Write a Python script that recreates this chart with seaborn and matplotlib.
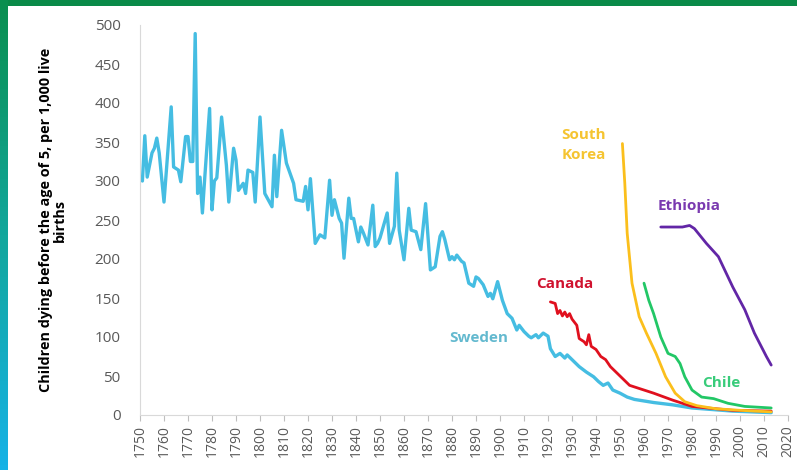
import matplotlib
matplotlib.use("Agg")
import matplotlib.pyplot as plt
from matplotlib.colors import LinearSegmentedColormap
import seaborn as sns
import numpy as np
import pandas as pd

# under-5 mortality, deaths per 1,000 live births
sweden_years = [1751, 1752, 1753, 1755, 1756, 1757, 1758, 1760, 1763, 1764, 1766, 1767, 1769, 1770,
                1771, 1772, 1773, 1774, 1775, 1776, 1777, 1779, 1780, 1781, 1782, 1784, 1786, 1787,
                1789, 1790, 1791, 1793, 1794, 1795, 1797, 1798, 1800, 1802, 1805, 1806, 1807, 1809,
                1811, 1814, 1815, 1818, 1819, 1820, 1821, 1823, 1825, 1827, 1829, 1830, 1831, 1833,
                1834, 1835, 1837, 1838, 1839, 1841, 1842, 1843, 1845, 1847, 1848, 1849, 1850, 1853,
                1854, 1856, 1857, 1858, 1860, 1862, 1863, 1865, 1867, 1869, 1871, 1873, 1875, 1876,
                1877, 1879, 1880, 1881, 1882, 1884, 1885, 1887, 1889, 1890, 1891, 1893, 1895, 1896,
                1897, 1899, 1901, 1903, 1905, 1907, 1908, 1910, 1912, 1913, 1915, 1916, 1918, 1920,
                1921, 1923, 1925, 1927, 1928, 1930, 1933, 1936, 1939, 1941, 1943, 1945, 1947, 1950,
                1953, 1956, 1964, 1972, 1980, 1997, 2013]
sweden_rate = [300, 358, 305, 336, 342, 355, 336, 273, 395, 318, 314, 299, 357, 357,
               325, 325, 489, 284, 305, 259, 305, 393, 263, 300, 304, 382, 320, 273,
               342, 327, 288, 297, 284, 314, 311, 273, 382, 284, 267, 333, 280, 365,
               323, 297, 276, 274, 293, 263, 303, 220, 231, 227, 301, 256, 276, 252,
               246, 201, 278, 252, 252, 222, 241, 234, 218, 269, 216, 220, 227, 259,
               220, 242, 310, 237, 199, 265, 237, 235, 212, 271, 186, 190, 229, 235,
               225, 199, 203, 199, 205, 197, 195, 169, 165, 177, 175, 167, 152, 156,
               149, 171, 147, 130, 124, 109, 115, 107, 101, 99, 103, 99, 105, 101,
               85, 75, 79, 73, 77, 71, 62, 55, 49, 43, 38, 41, 32, 28,
               23, 20, 16, 13, 9, 5, 3]

canada_years = [1921, 1923, 1924, 1925, 1926, 1927, 1928, 1929, 1930, 1932, 1933, 1935, 1936, 1937,
                1938, 1940, 1942, 1944, 1946, 1948, 1951, 1954, 1964, 1972, 1980, 1990, 1997, 2013]
canada_rate = [145, 143, 130, 134, 127, 132, 126, 130, 123, 115, 98, 94, 90, 103,
               88, 84, 75, 71, 62, 56, 47, 38, 28, 19, 11, 8, 6, 5]

korea_years = [1951, 1952, 1953, 1955, 1958, 1961, 1965, 1969, 1973, 1977, 1982, 1990, 2000, 2013]
korea_rate = [348, 297, 233, 169, 126, 105, 79, 49, 28, 17, 12, 8, 6, 4]

chile_years = [1960, 1962, 1964, 1967, 1970, 1973, 1975, 1977, 1980, 1984, 1989, 1995, 2002, 2013]
chile_rate = [169, 147, 130, 100, 79, 75, 66, 49, 32, 23, 21, 15, 11, 9]

ethiopia_years = [1967, 1976, 1979, 1981, 1986, 1991, 1997, 2002, 2006, 2011, 2013]
ethiopia_rate = [241, 241, 243, 239, 220, 203, 164, 135, 105, 75, 64]

sns.set_style("white")
plt.rcParams['font.family'] = ['Open Sans', 'DejaVu Sans']

fig = plt.figure(figsize=(7.97, 4.70), dpi=100)
ax = fig.add_axes([140 / 797, 1 - 415 / 470, 648 / 797, 390 / 470])

sweden = pd.DataFrame({"year": sweden_years, "rate": sweden_rate})
canada = pd.DataFrame({"year": canada_years, "rate": canada_rate})
korea = pd.DataFrame({"year": korea_years, "rate": korea_rate})
chile = pd.DataFrame({"year": chile_years, "rate": chile_rate})
ethiopia = pd.DataFrame({"year": ethiopia_years, "rate": ethiopia_rate})

sns.lineplot(data=sweden, x="year", y="rate", color="#45bde2", lw=2.4, ax=ax)
sns.lineplot(data=canada, x="year", y="rate", color="#e0101e", lw=2, ax=ax)
sns.lineplot(data=korea, x="year", y="rate", color="#fbbf1c", lw=2, ax=ax)
sns.lineplot(data=chile, x="year", y="rate", color="#22c766", lw=2, ax=ax)
sns.lineplot(data=ethiopia, x="year", y="rate", color="#6226a6", lw=2, ax=ax)

# series labels
lab = dict(fontsize=11, fontweight='bold', ha='center', va='center')
ax.text(1891, 99, 'Sweden', color='#63b9cf', **lab)
ax.text(1927, 168, 'Canada', color='#d0122e', **lab)
ax.text(1935, 346, 'South\nKorea', color='#f5c431', linespacing=1.5, **lab)
ax.text(1979, 268, 'Ethiopia', color='#7a3ab0', **lab)
ax.text(1992, 41, 'Chile', color='#38cc7a', **lab)

ax.set_xlim(1750, 2020)
ax.set_ylim(0, 500)
ax.set_xticks(np.arange(1750, 2021, 10))
ax.set_yticks(np.arange(0, 501, 50))
ax.tick_params(axis='x', labelrotation=90, labelsize=10, colors='#595959',
               length=4, width=0.8, direction='out', bottom=True, color='#bfbfbf')
ax.tick_params(axis='y', labelsize=11, colors='#595959', length=0, pad=14)
ax.set_xlabel('')
ax.set_ylabel('Children dying before the age of 5, per 1,000 live\nbirths',
              fontsize=10.4, fontweight='bold', color='black', labelpad=20, linespacing=1.0)
for s in ['top', 'right']:
    ax.spines[s].set_visible(False)
ax.spines['left'].set_color('#d9d9d9')
ax.spines['bottom'].set_color('#d9d9d9')

# frame: green bar on top, green-to-blue bar on the left
top = fig.add_axes([0, 1 - 6 / 470, 1, 6 / 470])
top.set_facecolor('#0a8a48')
top.set_xticks([])
top.set_yticks([])
for s in top.spines.values():
    s.set_visible(False)

side = fig.add_axes([0, 0, 8 / 797, 1])
cmap = LinearSegmentedColormap.from_list('edge', ['#0a8f4f', '#12a79c', '#16b2e6'])
side.imshow(np.linspace(0, 1, 100).reshape(-1, 1), aspect='auto', cmap=cmap)
side.axis('off')

fig.savefig('out.png', dpi=100)
